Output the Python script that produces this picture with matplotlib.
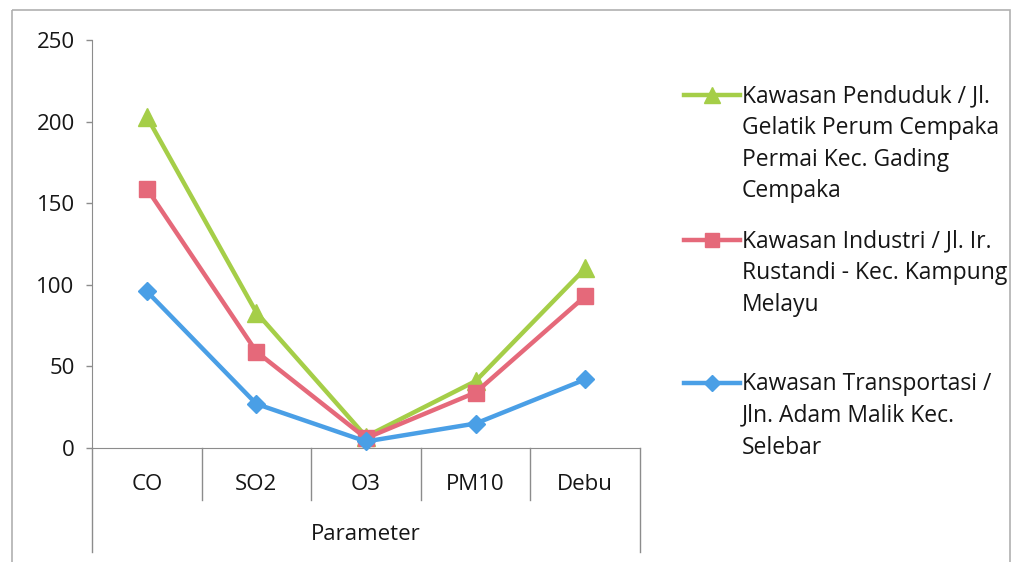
import matplotlib
matplotlib.use("Agg")
import matplotlib.pyplot as plt
from matplotlib.lines import Line2D
from matplotlib.patches import Rectangle
from matplotlib.transforms import Affine2D

plt.rcParams['font.family'] = ['Open Sans', 'DejaVu Sans']

# Data
categories = ["CO", "SO2", "O3", "PM10", "Debu"]
penduduk = [203, 83, 7, 41, 110]
industri = [159, 59, 6, 34, 93]
transportasi = [96, 27, 4, 15, 42]
series_labels = [
    "Kawasan Penduduk / Jl.\nGelatik Perum Cempaka\nPermai Kec. Gading\nCempaka",
    "Kawasan Industri / Jl. Ir.\nRustandi - Kec. Kampung\nMelayu",
    "Kawasan Transportasi /\nJln. Adam Malik Kec.\nSelebar",
]
y_ticks = [0, 50, 100, 150, 200, 250]
x_title = "Parameter"

colors = ["#A5CE48", "#E5697A", "#4A9FE6"]
markers = ["^", "s", "D"]
msizes = [13, 12, 9]
txt = "#161616"
axis_col = "#8C8C8C"

W, H = 1021, 562
fig = plt.figure(figsize=(W / 100, H / 100), dpi=100)
fig.patch.set_facecolor("white")

# pixel -> figure fraction transform (origin top-left)
px = Affine2D().scale(1 / W, -1 / H).translate(0, 1) + fig.transFigure

# chart border
fig.add_artist(Rectangle((12, 10), 998, 560, transform=px, fill=False,
                         edgecolor="#B0B0B0", lw=1.2))

left, right, top, bottom = 92, 640, 40, 448
ax = fig.add_axes([left / W, 1 - bottom / H, (right - left) / W, (bottom - top) / H])

x = list(range(len(categories)))
for vals, c, m, ms in zip([penduduk, industri, transportasi], colors, markers, msizes):
    ax.plot(x, vals, color=c, lw=3.2, marker=m, ms=ms, mec=c, mfc=c, zorder=3,
            clip_on=False)

ax.set_xlim(-0.5, len(categories) - 0.5)
ax.set_ylim(0, 250)
ax.set_yticks(y_ticks)
ax.tick_params(axis="y", direction="out", length=4.5, width=1, color=axis_col,
               labelsize=16, pad=8, labelcolor=txt)
ax.set_xticks([])
for s in ["top", "right"]:
    ax.spines[s].set_visible(False)
ax.spines["left"].set_color(axis_col)
ax.spines["bottom"].set_color(axis_col)
ax.spines["left"].set_bounds(0, 250)

# multi-level category axis
tr = ax.get_xaxis_transform()
h = bottom - top
for k in range(1, len(categories)):
    ax.add_line(Line2D([k - 0.5, k - 0.5], [0, -52 / h], transform=tr,
                       color=axis_col, lw=1, clip_on=False))
for xe in [-0.5, len(categories) - 0.5]:
    ax.add_line(Line2D([xe, xe], [0, -104 / h], transform=tr,
                       color=axis_col, lw=1, clip_on=False))
for k, cat in enumerate(categories):
    ax.text(k, -37 / h, cat, transform=tr, ha="center", va="center",
            fontsize=16, color=txt)
ax.text((len(categories) - 1) / 2, -86 / h, x_title, transform=tr,
        ha="center", va="center", fontsize=16, color=txt)

# legend
entry_y = [95, 240, 383]
for lab, c, m, ms, yy in zip(series_labels, colors, markers, msizes, entry_y):
    fig.add_artist(Line2D([684, 740], [yy, yy], transform=px, color=c, lw=3.2))
    fig.add_artist(Line2D([712], [yy], transform=px, color=c, marker=m,
                          ms=ms * 0.85, mec=c, mfc=c))
    for i, line in enumerate(lab.split("\n")):
        fig.text(742 / W, 1 - (yy + 1 + i * 31.8) / H, line, ha="left", va="center",
                 fontsize=16.5, color=txt)

fig.savefig("out.png", dpi=100)
